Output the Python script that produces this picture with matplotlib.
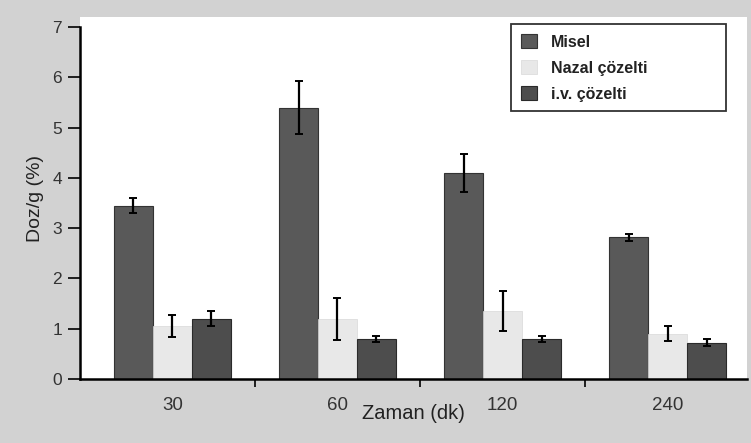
import numpy as np
import matplotlib
matplotlib.use('Agg')
import matplotlib.pyplot as plt

zaman = ['30', '60', '120', '240']
misel = [3.45, 5.4, 4.1, 2.82]
misel_err = [0.15, 0.52, 0.38, 0.07]
nazal = [1.05, 1.2, 1.35, 0.9]
nazal_err = [0.22, 0.42, 0.4, 0.15]
iv = [1.2, 0.8, 0.8, 0.72]
iv_err = [0.15, 0.06, 0.06, 0.07]

plt.rcParams['font.family'] = ['Liberation Sans', 'DejaVu Sans']

fig = plt.figure(figsize=(7.51, 4.43), dpi=100, facecolor='#d2d2d2')
ax = fig.add_axes([0.1065, 0.1445, 0.888, 0.817])
ax.set_facecolor('white')

x = np.arange(len(zaman))
w = 0.236
ekw = dict(ecolor='black', capsize=3, elinewidth=1.6, capthick=1.4)
ax.bar(x - w, misel, w, yerr=misel_err, color='#595959', edgecolor='#333333',
       linewidth=0.8, label='Misel', error_kw=ekw)
ax.bar(x, nazal, w, yerr=nazal_err, color='#e8e8e8', edgecolor='#d8d8d8',
       linewidth=0.5, label='Nazal çözelti', error_kw=ekw)
ax.bar(x + w, iv, w, yerr=iv_err, color='#4d4d4d', edgecolor='#2a2a2a',
       linewidth=0.8, label='i.v. çözelti', error_kw=ekw)

ax.set_xlim(-0.56, 3.48)
ax.set_ylim(0, 7.2)
ax.spines['left'].set_bounds(0, 7)
ax.spines['top'].set_visible(False)
ax.spines['right'].set_visible(False)
for s in ['left', 'bottom']:
    ax.spines[s].set_linewidth(1.8)

ax.set_yticks(range(8))
ax.tick_params(axis='y', direction='out', length=9, width=1.2, labelsize=12.5,
               pad=4, labelcolor='#333333')
ax.set_xticks([0.5, 1.5, 2.5])
ax.set_xticklabels([])
ax.set_xticks(x, minor=True)
ax.set_xticklabels(zaman, minor=True, fontsize=13.5, color='#333333')
ax.tick_params(axis='x', which='major', direction='out', length=6, width=1.2)
ax.tick_params(axis='x', which='minor', length=0, pad=13)

ax.set_ylabel('Doz/g (%)', fontsize=14, labelpad=6, color='#222222')
ax.set_xlabel('Zaman (dk)', fontsize=14.5, color='#222222')
ax.xaxis.set_label_coords(0.5, -0.095)
ax.xaxis.label.set_va('center')

leg = ax.legend(loc='upper left', bbox_to_anchor=(0.635, 0.74, 0.345, 0.262),
                mode='expand', fontsize=11.5, frameon=True, fancybox=False,
                edgecolor='black', handlelength=1.0, handleheight=1.0,
                borderpad=0.6, labelspacing=0.65, handletextpad=0.9)
leg.get_frame().set_linewidth(1.3)
for t in leg.get_texts():
    t.set_fontweight('bold')
    t.set_color('#222222')

fig.savefig('out.png', dpi=100, facecolor=fig.get_facecolor())
